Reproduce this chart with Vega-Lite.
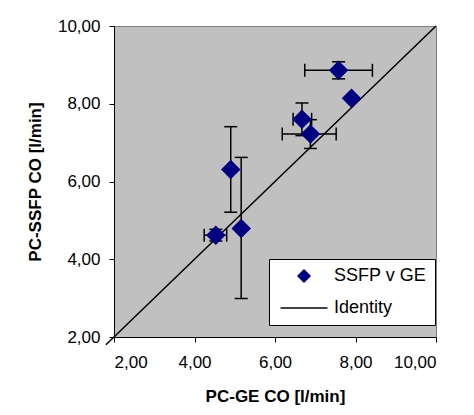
{
  "$schema": "https://vega.github.io/schema/vega-lite/v6.json",
  "width": 322,
  "height": 311,
  "autosize": {"type": "none"},
  "padding": {"left": 114, "top": 26, "right": 38, "bottom": 78},
  "background": "white",
  "config": {
    "font": "Liberation Sans",
    "view": {"fill": "#C0C0C0", "stroke": "#808080", "strokeWidth": 1},
    "axis": {
      "grid": false,
      "domainColor": "#000000",
      "tickColor": "#000000",
      "tickSize": 5,
      "labelFont": "Liberation Sans",
      "labelFontSize": 17,
      "labelColor": "#000000",
      "titleFont": "Liberation Sans",
      "titleFontSize": 17,
      "titleFontWeight": "bold",
      "titleColor": "#000000"
    }
  },
  "data": {
    "values": [
      {"x": 7.58, "y": 8.86, "xlo": 6.74, "xhi": 8.42, "ylo": 8.64, "yhi": 9.08},
      {"x": 7.90, "y": 8.14, "xlo": null, "xhi": null, "ylo": null, "yhi": null},
      {"x": 6.67, "y": 7.60, "xlo": 6.45, "xhi": 6.91, "ylo": 7.18, "yhi": 8.02},
      {"x": 6.88, "y": 7.22, "xlo": 6.18, "xhi": 7.52, "ylo": 6.85, "yhi": 7.59},
      {"x": 4.90, "y": 6.31, "xlo": null, "xhi": null, "ylo": 5.21, "yhi": 7.41},
      {"x": 5.16, "y": 4.79, "xlo": null, "xhi": null, "ylo": 2.99, "yhi": 6.62},
      {"x": 4.53, "y": 4.62, "xlo": 4.24, "xhi": 4.80, "ylo": 4.47, "yhi": 4.77}
    ]
  },
  "encoding": {
    "x": {
      "field": "x", "type": "quantitative",
      "scale": {"domain": [2, 10], "nice": false, "zero": false},
      "axis": {"values": [2, 4, 6, 8, 10], "labelExpr": "replace(format(datum.value, '.2f'), '.', ',')", "title": "PC-GE CO [l/min]", "labelPadding": 12, "titlePadding": 18}
    },
    "y": {
      "field": "y", "type": "quantitative",
      "scale": {"domain": [2, 10], "nice": false, "zero": false},
      "axis": {"values": [2, 4, 6, 8, 10], "labelExpr": "replace(format(datum.value, '.2f'), '.', ',')", "title": "PC-SSFP CO [l/min]", "labelPadding": 9, "titlePadding": 13}
    }
  },
  "layer": [
    {
      "data": {"values": [{"x": 1.8, "y": 1.8}, {"x": 10, "y": 10}]},
      "mark": {"type": "line", "strokeWidth": 1.5, "clip": false},
      "encoding": {
        "color": {"datum": "Identity", "type": "nominal",
          "scale": {"domain": ["SSFP v GE", "Identity"], "range": ["#000080", "#000000"]},
          "legend": {
            "title": null,
            "orient": "none",
            "legendX": 155,
            "legendY": 233,
            "fillColor": "#FFFFFF",
            "strokeColor": "#000000",
            "padding": 8,
            "labelFont": "Liberation Sans",
            "labelFontSize": 18,
            "labelColor": "#000000",
            "symbolSize": 2200,
            "symbolOffset": 18,
            "labelOffset": 21,
            "rowPadding": 14,
            "encode": {
              "symbols": {
                "update": {
                  "shape": {"signal": "datum.value === 'Identity' ? 'stroke' : 'diamond'"},
                  "size": {"signal": "datum.value === 'Identity' ? 2200 : 144"},
                  "fill": {"signal": "datum.value === 'Identity' ? 'transparent' : '#000080'"},
                  "stroke": {"signal": "datum.value === 'Identity' ? '#000000' : 'transparent'"},
                  "strokeWidth": {"value": 1.5},
                  "opacity": {"value": 1}
                }
              }
            }
          }
        }
      }
    },
    {
      "transform": [{"filter": "isValid(datum.ylo)"}],
      "mark": {"type": "rule", "color": "#000000", "strokeWidth": 1.5},
      "encoding": {"y": {"field": "ylo", "type": "quantitative"}, "y2": {"field": "yhi"}}
    },
    {
      "transform": [{"filter": "isValid(datum.ylo)"}],
      "mark": {"type": "tick", "orient": "horizontal", "color": "#000000", "size": 13, "thickness": 1.5, "opacity": 1},
      "encoding": {"y": {"field": "ylo", "type": "quantitative"}}
    },
    {
      "transform": [{"filter": "isValid(datum.yhi)"}],
      "mark": {"type": "tick", "orient": "horizontal", "color": "#000000", "size": 13, "thickness": 1.5, "opacity": 1},
      "encoding": {"y": {"field": "yhi", "type": "quantitative"}}
    },
    {
      "transform": [{"filter": "isValid(datum.xlo)"}],
      "mark": {"type": "rule", "color": "#000000", "strokeWidth": 1.5},
      "encoding": {"x": {"field": "xlo", "type": "quantitative"}, "x2": {"field": "xhi"}}
    },
    {
      "transform": [{"filter": "isValid(datum.xlo)"}],
      "mark": {"type": "tick", "orient": "vertical", "color": "#000000", "size": 13, "thickness": 1.5, "opacity": 1},
      "encoding": {"x": {"field": "xlo", "type": "quantitative"}}
    },
    {
      "transform": [{"filter": "isValid(datum.xhi)"}],
      "mark": {"type": "tick", "orient": "vertical", "color": "#000000", "size": 13, "thickness": 1.5, "opacity": 1},
      "encoding": {"x": {"field": "xhi", "type": "quantitative"}}
    },
    {
      "mark": {"type": "point", "shape": "diamond", "filled": true, "size": 380, "opacity": 1},
      "encoding": {
        "color": {"datum": "SSFP v GE", "type": "nominal"}
      }
    }
  ]
}
